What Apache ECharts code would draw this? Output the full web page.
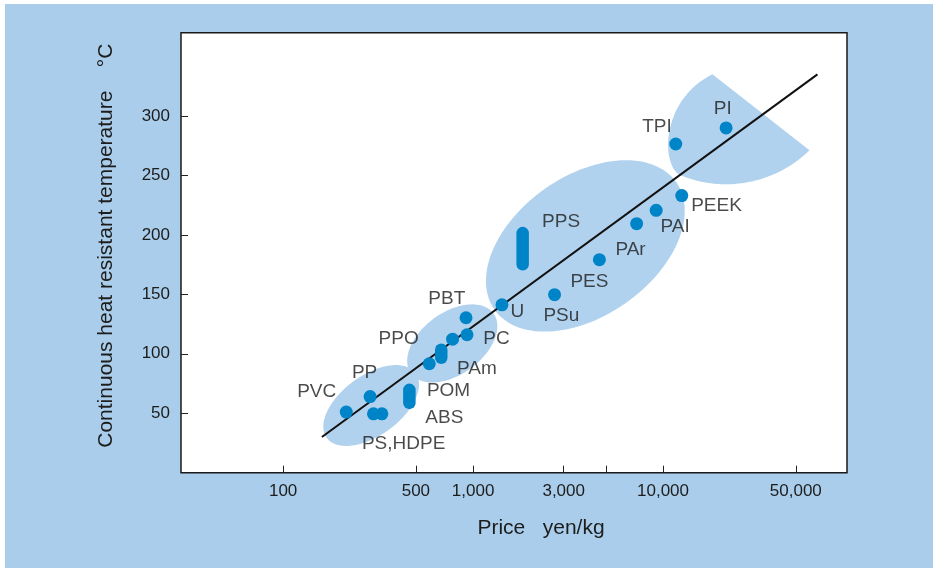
<!DOCTYPE html>
<html><head><meta charset="utf-8">
<script src="https://cdn.jsdelivr.net/npm/echarts@6/dist/echarts.min.js"></script>
<style>
html,body{margin:0;padding:0;background:#fff;}
#chart{position:absolute;left:5px;top:4px;width:928px;height:564px;}
</style></head><body><div id="chart"></div>
<script>
// ---------- data (price yen/kg, continuous heat resistant temperature °C) ----------
const pointNames = ['PVC','PP','PS','HDPE','POM','PPO','PC','PBT','U','PSu','PES','PAr','PAI','PEEK','TPI','PI'];
const pointPrice = [215, 287, 299, 331, 588, 780, 929, 918, 1419, 2685, 4624, 7262, 9204, 12550, 11670, 21480];
const pointTemp  = [51, 64, 49.5, 49.5, 91.6, 112.3, 116, 130.3, 141.2, 149.7, 179.1, 209.4, 220.6, 233, 276.4, 289.9];

const rangeNames = ['ABS','PAm','PPS'];
const rangePrice = [462, 680, 1824];
const rangeLow   = [58.7, 96.6, 175.2];
const rangeHigh  = [69.7, 103.4, 201.5];

const labelTexts = ['PVC','PP','PS,HDPE','POM','ABS','PAm','PPO','PBT','PC','U','PPS','PES','PSu','PAr','PAI','PEEK','TPI','PI'];
const labelPrice = [118.5, 230, 259.8, 571, 560, 822, 318, 581, 1132, 1571, 2307, 3251, 2345, 5610, 9690, 14060, 7762, 18490];
const labelTemp  = [68.3, 83.7, 24.5, 69.1, 46.6, 87.4, 112.6, 146.3, 112.6, 135, 210.8, 160.3, 132.2, 187.8, 206.6, 224.2, 290.7, 306.2];

const trendPrice = [160, 65000];
const trendTemp  = [30, 335];

const xTickValues  = [100, 500, 1000, 3000, 5000, 10000, 50000];
const xLabelValues = [100, 500, 1000, 3000, 10000, 50000];
const yTickValues  = [50, 100, 150, 200, 250, 300];

// group regions (drawn in data space)
const ellipseCenters = [[290.8, 56.5], [777, 108.7], [3899, 190.7]];
const topBlobApex = [18200, 335.1];
const topBlobCorner = [59000, 271.1];
const topBlobArcCenter = [21450, 343.1];
const topBlobBottomLeft = [12350, 250.1];
const topBlobCtrl1 = [9690, 258.5];
const topBlobCtrl2 = [9690, 313.2];

// ---------- styles ----------
const BG = '#a9cdeb', BLOB = '#b1d2ee', DOT = '#0084c8', INK = '#1d1d1b';
const ellipseShape = [{a:55,b:30,angle:36},{a:51,b:31,angle:36},{a:111,b:70,angle:35}];
const FONT = "'Liberation Sans', Arial, Helvetica, sans-serif";

const chart = echarts.init(document.getElementById('chart'), null, {renderer:'canvas'});

const ellipseSeries = {
  type:'custom', coordinateSystem:'cartesian2d', silent:true, z:1, clip:false,
  data: ellipseCenters.map(c => [c[0], c[1]]),
  renderItem: function(params, api){
    const s = ellipseShape[params.dataIndex];
    const c = api.coord(ellipseCenters[params.dataIndex]);
    const th = s.angle*Math.PI/180, pts = [];
    for (let k=0;k<120;k++){
      const t = k/120*2*Math.PI, u = s.a*Math.cos(t), v = s.b*Math.sin(t);
      pts.push([c[0]+u*Math.cos(th)+v*Math.sin(th), c[1]-u*Math.sin(th)+v*Math.cos(th)]);
    }
    return {type:'polygon', shape:{points:pts}, style:{fill:BLOB}};
  }
};

const topBlobSeries = {
  type:'custom', coordinateSystem:'cartesian2d', silent:true, z:1, clip:false,
  data: [topBlobApex],
  renderItem: function(params, api){
    const A = api.coord(topBlobApex), B = api.coord(topBlobCorner), C = api.coord(topBlobArcCenter);
    const D = api.coord(topBlobBottomLeft), P1 = api.coord(topBlobCtrl1), P2 = api.coord(topBlobCtrl2);
    const r = Math.hypot(B[0]-C[0], B[1]-C[1]);
    const a0 = Math.atan2(B[1]-C[1], B[0]-C[0]);
    let a1 = Math.atan2(D[1]-C[1], D[0]-C[0]);
    if (a1 < a0) a1 += 2*Math.PI;
    const pts = [A, B];
    for (let k=1;k<=40;k++){ const a = a0+(a1-a0)*k/40; pts.push([C[0]+r*Math.cos(a), C[1]+r*Math.sin(a)]); }
    pts.push(D);
    for (let k=1;k<40;k++){
      const t=k/40, m=1-t;
      pts.push([m*m*m*D[0]+3*m*m*t*P1[0]+3*m*t*t*P2[0]+t*t*t*A[0],
                m*m*m*D[1]+3*m*m*t*P1[1]+3*m*t*t*P2[1]+t*t*t*A[1]]);
    }
    return {type:'polygon', shape:{points:pts}, style:{fill:BLOB}};
  }
};

const rangeSeries = rangeNames.map((n,i) => ({
  type:'line', name:n, z:4, symbol:'none', silent:true,
  data:[[rangePrice[i], rangeLow[i]], [rangePrice[i], rangeHigh[i]]],
  lineStyle:{color:DOT, width:12.5, cap:'round'}
}));

const option = {
  animation:false,
  backgroundColor: BG,
  grid:{left:176, right:86, top:28.7, bottom:95.3, show:true, backgroundColor:'#fff', borderColor:'#1a1a1a', borderWidth:1.5},
  xAxis:{
    type:'log', logBase:10, min:29, max:93000,
    name:'Price   yen/kg', nameLocation:'middle', nameGap:45,
    nameTextStyle:{fontFamily:FONT, fontSize:21, color:INK, padding:[0,0,0,54]},
    axisLine:{show:false},
    axisTick:{show:true, inside:true, length:7, customValues:xTickValues, lineStyle:{color:'#222', width:1}},
    axisLabel:{show:true, customValues:xLabelValues, margin:10, fontFamily:FONT, fontSize:17, color:INK,
      formatter: v => Number(v).toLocaleString('en-US')},
    splitLine:{show:false}, minorTick:{show:false}
  },
  yAxis:{
    type:'value', min:0, max:370, interval:50,
    name:'Continuous heat resistant temperature    \u00b0C', nameLocation:'middle', nameGap:64, nameRotate:90,
    nameTextStyle:{fontFamily:FONT, fontSize:21, color:INK, padding:[0,0,0,14]},
    axisLine:{show:false},
    axisTick:{show:true, inside:true, length:7, customValues:yTickValues, lineStyle:{color:'#222', width:1}},
    axisLabel:{show:true, customValues:yTickValues, margin:11, fontFamily:FONT, fontSize:17, color:INK},
    splitLine:{show:false}
  },
  series:[
    ellipseSeries,
    topBlobSeries,
    {type:'line', z:3, symbol:'none', silent:true,
     data: trendPrice.map((p,i)=>[p, trendTemp[i]]),
     lineStyle:{color:'#111', width:2}},
    ...rangeSeries,
    {type:'scatter', z:5, symbol:'circle', symbolSize:13, silent:true,
     itemStyle:{color:DOT, opacity:1},
     data: pointNames.map((n,i)=>({name:n, value:[pointPrice[i], pointTemp[i]]}))},
    {type:'scatter', z:6, symbol:'circle', symbolSize:0.1, silent:true,
     itemStyle:{color:'rgba(0,0,0,0)'},
     label:{show:true, position:'right', distance:0, formatter: p => p.name,
            fontFamily:FONT, fontSize:19, color:INK, align:'left', verticalAlign:'middle'},
     data: labelTexts.map((t,i)=>({name:t, value:[labelPrice[i], labelTemp[i]]}))}
  ]
};
chart.setOption(option);
</script></body></html>
